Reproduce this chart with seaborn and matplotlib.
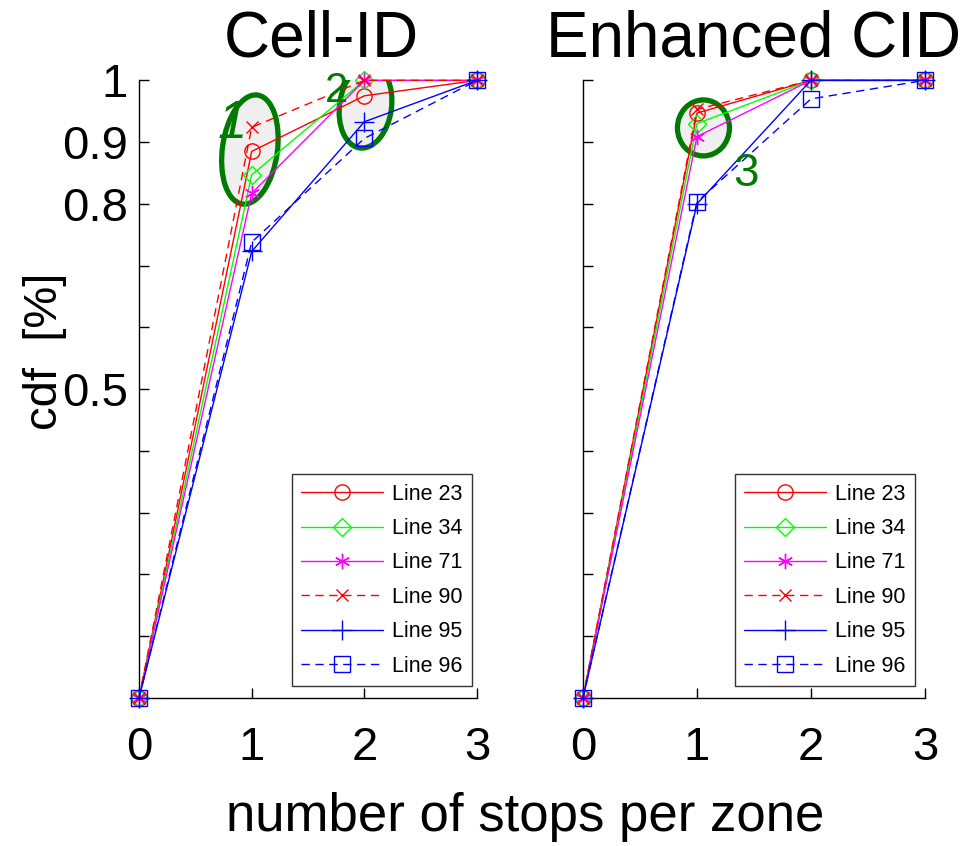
import numpy as np
import pandas as pd
import matplotlib
matplotlib.use('Agg')
import matplotlib.pyplot as plt
from matplotlib.lines import Line2D
from matplotlib.patches import Ellipse
from matplotlib.transforms import ScaledTranslation
import seaborn as sns

sns.set_theme(style='white')
plt.rcParams['font.family'] = ['Liberation Sans', 'DejaVu Sans']
plt.rcParams['text.color'] = 'black'
plt.rcParams['xtick.color'] = 'black'
plt.rcParams['ytick.color'] = 'black'

stops = [0, 1, 2, 3]
line_names = ['Line 23', 'Line 34', 'Line 71', 'Line 90', 'Line 95', 'Line 96']

# Cell-ID cdf per line
cell_23 = [0, 0.885, 0.975, 1.0]
cell_34 = [0, 0.847, 1.0, 1.0]
cell_71 = [0, 0.817, 1.0, 1.0]
cell_90 = [0, 0.924, 1.0, 1.0]
cell_95 = [0, 0.723, 0.933, 1.0]
cell_96 = [0, 0.738, 0.906, 1.0]

# Enhanced CID cdf per line
ecid_23 = [0, 0.947, 1.0, 1.0]
ecid_34 = [0, 0.930, 1.0, 1.0]
ecid_71 = [0, 0.909, 1.0, 1.0]
ecid_90 = [0, 0.953, 1.0, 1.0]
ecid_95 = [0, 0.800, 1.0, 1.0]
ecid_96 = [0, 0.803, 0.970, 1.0]

ytick_vals = [0, 0.1, 0.2, 0.3, 0.4, 0.5, 0.6, 0.7, 0.8, 0.9, 1.0]
ytick_labels = ['', '', '', '', '', '0.5', '', '', '0.8', '0.9', '1']

colors = {'Line 23': '#ff0000', 'Line 34': '#00ff00', 'Line 71': '#ff00ff',
          'Line 90': '#ff0000', 'Line 95': '#0000ff', 'Line 96': '#0000ff'}
asterisk = (6, 2, 0)
markers = {'Line 23': 'o', 'Line 34': 'D', 'Line 71': asterisk,
           'Line 90': 'x', 'Line 95': '+', 'Line 96': 's'}
dashed = {'Line 23': False, 'Line 34': False, 'Line 71': False,
          'Line 90': True, 'Line 95': False, 'Line 96': True}
msizes = {'Line 23': 11, 'Line 34': 9, 'Line 71': 11,
          'Line 90': 9, 'Line 95': 14, 'Line 96': 11}

panels = {
    'Cell-ID': [cell_23, cell_34, cell_71, cell_90, cell_95, cell_96],
    'Enhanced CID': [ecid_23, ecid_34, ecid_71, ecid_90, ecid_95, ecid_96],
}

rows = []
for panel, series in panels.items():
    for name, vals in zip(line_names, series):
        for s, v in zip(stops, vals):
            rows.append({'panel': panel, 'stops': s, 'cdf': v, 'line': name})
df = pd.DataFrame(rows)

fig = plt.figure(figsize=(9.77, 8.46), dpi=100)
ax1 = fig.add_axes([0.1423, 0.175, 0.346, 0.730])
ax2 = fig.add_axes([0.5967, 0.175, 0.350, 0.730])

green = '#007a00'

for ax, panel in [(ax1, 'Cell-ID'), (ax2, 'Enhanced CID')]:
    sub = df[df['panel'] == panel]
    for n in line_names:
        sns.lineplot(data=sub[sub['line'] == n], x='stops', y='cdf', ax=ax,
                     color=colors[n], marker=markers[n], markersize=msizes[n],
                     mfc='none', mec=colors[n], mew=1.0,
                     linestyle='--' if dashed[n] else '-',
                     linewidth=1.0, clip_on=False, zorder=3, legend=False)
    for ln in ax.lines:
        if ln.get_linestyle() == '--':
            ln.set_dashes((6, 4))
    ax.set_xlim(0, 3)
    ax.set_ylim(0, 1)
    ax.set_xticks(stops)
    ax.set_xticklabels([str(s) for s in stops])
    ax.set_yticks(ytick_vals)
    ax.set_yticklabels(ytick_labels if ax is ax1 else [''] * len(ytick_vals))
    ax.tick_params(axis='both', direction='in', length=7, width=1, colors='black',
                   labelsize=34, left=True, bottom=True)
    ax.tick_params(axis='x', pad=20)
    ax.tick_params(axis='y', pad=8)
    ax.set_xlabel('')
    ax.set_ylabel('')
    ax.set_title(panel, fontsize=46, pad=17, x=0.54 if ax is ax1 else 0.5)
    for side in ['top', 'right']:
        ax.spines[side].set_visible(False)
    for side in ['left', 'bottom']:
        ax.spines[side].set_color('black')
        ax.spines[side].set_linewidth(1.0)
    handles = []
    for n in line_names:
        h = Line2D([], [], color=colors[n], marker=markers[n],
                   mfc='none', mec=colors[n], markersize=msizes[n],
                   linewidth=1.0)
        if dashed[n]:
            h.set_dashes((6, 4))
        handles.append(h)
    leg = ax.legend(handles, line_names, loc='lower right',
                    bbox_to_anchor=(0.985 if ax is ax1 else 0.971, 0.019),
                    borderaxespad=0, fontsize=15.5, frameon=True, fancybox=False,
                    edgecolor='black', handlelength=3.8, labelspacing=0.62,
                    borderpad=0.45, handletextpad=0.4)
    leg.get_frame().set_linewidth(1.0)


def ring(ax, cx, cy, w, h, angle):
    tr = fig.dpi_scale_trans + ScaledTranslation(cx, cy, ax.transData)
    ax.add_patch(Ellipse((0, 0), w, h, angle=angle, transform=tr,
                         facecolor='#efefef', edgecolor=green, linewidth=3.8,
                         zorder=2))


# highlighted groups
ring(ax1, 0.984, 0.888, 0.55, 1.10, -8)
ring(ax1, 2.01, 0.958, 0.52, 0.84, -8)
ring(ax2, 1.057, 0.923, 0.52, 0.56, 0)
ax1.text(0.83, 0.93, '1', color=green, fontsize=38, ha='center', va='center',
         style='italic', zorder=4)
ax1.text(1.75, 0.982, '2', color=green, fontsize=30, ha='center', va='center', zorder=4)
ax2.text(1.43, 0.848, '3', color=green, fontsize=33, ha='center', va='center', zorder=4)

fig.text(0.046, 0.585, 'cdf  [%]', rotation=90, fontsize=34, ha='center', va='center')
fig.text(0.538, 0.034, 'number of stops per zone', fontsize=38, ha='center', va='center')

fig.savefig('out.png', dpi=100, facecolor='white')
